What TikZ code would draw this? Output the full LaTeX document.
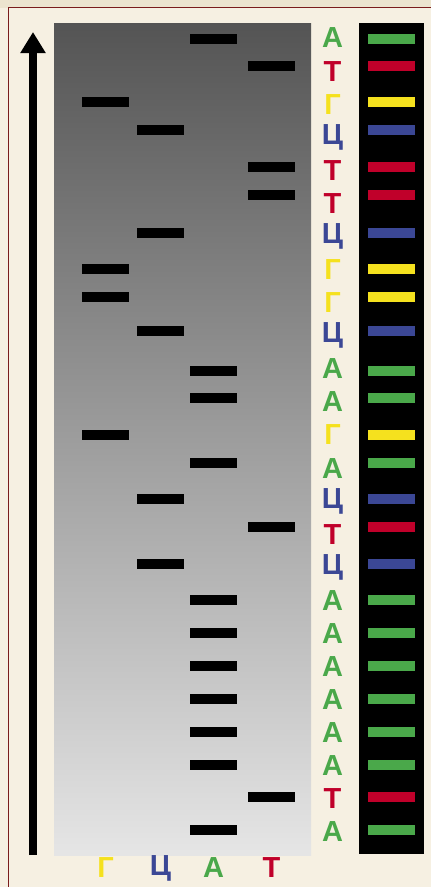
\documentclass[tikz,border=0pt]{standalone}
\usepackage{fontspec}
\setmainfont{Liberation Sans}
\usetikzlibrary{arrows.meta}
\definecolor{pagebg}{HTML}{F6F0E2}
\definecolor{topbar}{HTML}{ECE4CF}
\definecolor{frameline}{HTML}{7A1C1C}
\definecolor{nucA}{HTML}{4AA84A}
\definecolor{nucT}{HTML}{C0002A}
\definecolor{nucG}{HTML}{F5E11E}
\definecolor{nucC}{HTML}{3B4795}
\begin{document}
\begin{tikzpicture}[x=1pt,y=-1pt,
	band/.style={fill=black,minimum width=47pt,minimum height=10pt,inner sep=0pt},
	bar/.style={fill=#1,minimum width=47pt,minimum height=10pt,inner sep=0pt},
	base/.style={text=#1,font=\fontsize{29}{29}\selectfont\bfseries,inner sep=0pt}]
	\useasboundingbox (0,0) rectangle (431,887);
	% fond
	\fill[pagebg] (0,0) rectangle (431,887);
	\fill[topbar] (0,0) rectangle (431,7.5);
	\draw[frameline,line width=1.2pt] (431,7.5) -- (8.5,7.5) -- (8.5,887);
	% gel et bandes colorees
	\shade[top color=black!67,bottom color=black!10] (54,23) rectangle (311,855);
	\fill (359,23) rectangle (424,854);
	% sens de migration
	\coordinate (foot) at (33,855);
	\coordinate (tip) at (33,32);
	\draw[line width=8pt,-{Triangle[width=24pt,length=21pt]}] (foot) -- (tip);
	% bandes
	\foreach \y/\x/\c/\t [count=\i] in {39/213.5/nucA/А, 66/271.5/nucT/Т, 102/105.5/nucG/Г,
		130/160.5/nucC/Ц, 167/271.5/nucT/Т, 195/271.5/nucT/Т, 233/160.5/nucC/Ц,
		269/105.5/nucG/Г, 297/105.5/nucG/Г, 331/160.5/nucC/Ц, 371/213.5/nucA/А,
		398/213.5/nucA/А, 435/105.5/nucG/Г, 463/213.5/nucA/А, 499/160.5/nucC/Ц,
		527/271.5/nucT/Т, 564/160.5/nucC/Ц, 600/213.5/nucA/А, 633/213.5/nucA/А,
		666/213.5/nucA/А, 699/213.5/nucA/А, 732/213.5/nucA/А, 765/213.5/nucA/А,
		797/271.5/nucT/Т, 830/213.5/nucA/А} {
		\node[band] (band\i) at (\x,\y) {};
		\node[bar=\c] (bar\i) at (391.5,\y) {};
		\node[base=\c] (base\i) at (332.5,{38+33.08*(\i-1)}) {\t};
	}
	% pistes
	\node[base=nucG] (laneG) at (105.5,868) {Г};
	\node[base=nucC] (laneC) at (160.5,868) {Ц};
	\node[base=nucA] (laneA) at (213.5,868) {А};
	\node[base=nucT] (laneT) at (271.5,868) {Т};
\end{tikzpicture}
\end{document}
